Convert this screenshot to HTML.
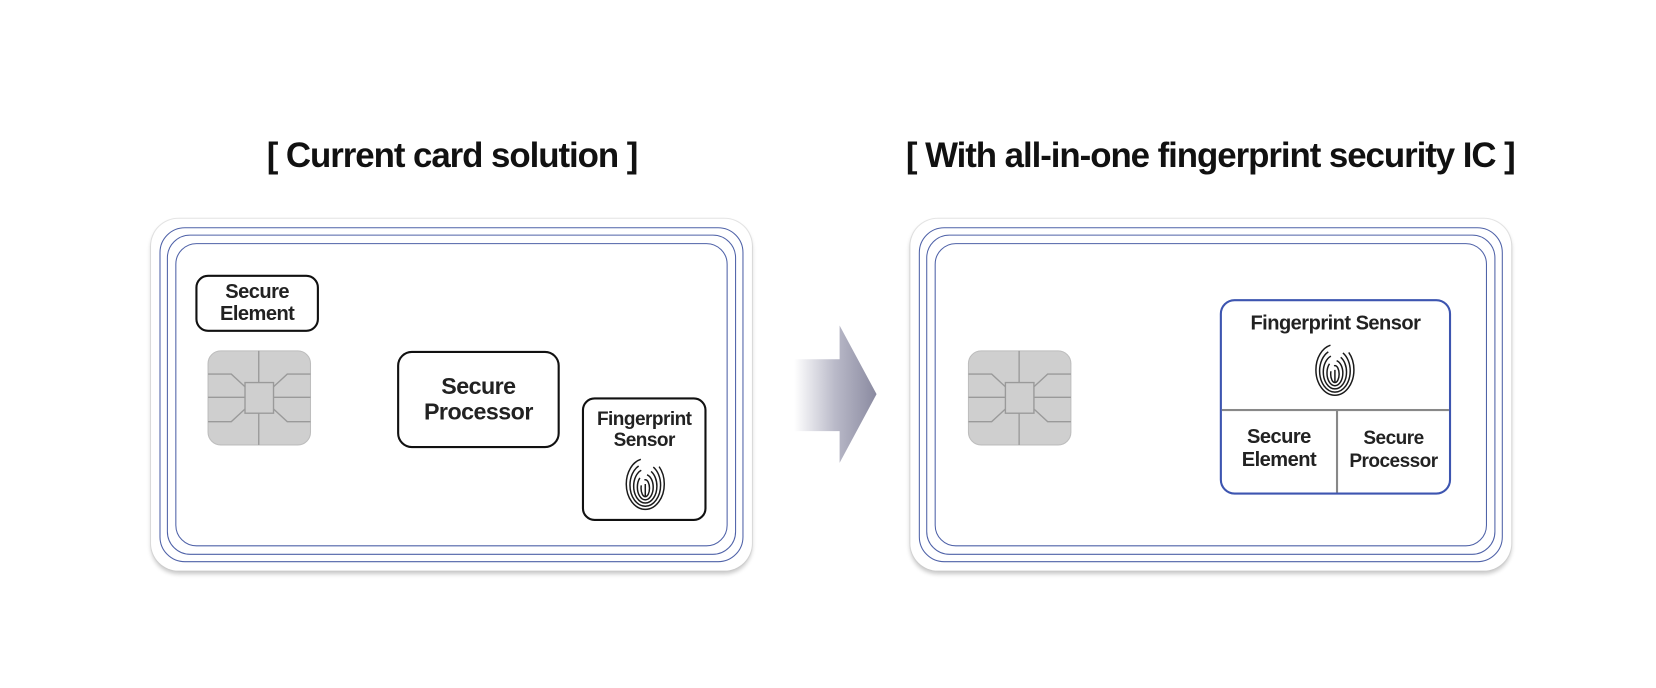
<!DOCTYPE html>
<html><head><meta charset="utf-8"><style>
html,body{margin:0;padding:0;background:#fff;width:1656px;height:688px;overflow:hidden}
#w{position:absolute;left:0;top:0;width:1568px;height:651px;transform:scale(1.0561,1.0568);transform-origin:0 0;font-family:"Liberation Sans",sans-serif}
.abs{position:absolute}
.title{position:absolute;top:128px;font-weight:bold;font-size:33px;color:#111;letter-spacing:-1px;white-space:nowrap;transform:translateX(-50%)}
.card{position:absolute;width:569px;height:333px;border-radius:26px;background:#fff;box-shadow:0 3px 4px #c8c8c8,0 0 0 1px #e6e6e6}
.ln{position:absolute;border:1.6px solid #4f62a8;border-radius:22px}
.box{position:absolute;border:2.5px solid #111;border-radius:12px;background:#fff;display:flex;align-items:center;justify-content:center;text-align:center;font-weight:bold;color:#222;letter-spacing:-0.5px}
</style></head><body><div id="w">
<div class="title" style="left:428px">[ Current card solution ]</div>
<div class="title" style="left:1146px">[ With all-in-one fingerprint security IC ]</div>

<div class="card" style="left:143px;top:207px">
 <div class="ln" style="left:8px;top:8px;right:8px;bottom:8px;border-radius:24px"></div>
 <div class="ln" style="left:15px;top:15px;right:15px;bottom:15px;border-radius:22px"></div>
 <div class="ln" style="left:23px;top:23px;right:23px;bottom:23px;border-radius:20px"></div>
</div>
<div class="card" style="left:862px;top:207px">
 <div class="ln" style="left:8px;top:8px;right:8px;bottom:8px;border-radius:24px"></div>
 <div class="ln" style="left:15px;top:15px;right:15px;bottom:15px;border-radius:22px"></div>
 <div class="ln" style="left:23px;top:23px;right:23px;bottom:23px;border-radius:20px"></div>
</div>

<svg class="abs" style="left:0;top:0" width="1568" height="651">
<defs>
<linearGradient id="ag" x1="0" x2="1"><stop offset="0" stop-color="#fff"/><stop offset="0.5" stop-color="#b9b9c8"/><stop offset="1" stop-color="#8a8aa0"/></linearGradient>
<g id="chip">
 <rect x="0" y="0" width="97" height="89" rx="12" fill="#cfcfcf" stroke="#bdbdbd"/>
 <g stroke="#9a9a9a" stroke-width="1.3" fill="none">
 <line x1="48" y1="0" x2="48" y2="30"/><line x1="48" y1="59" x2="48" y2="89"/>
 <rect x="35" y="30" width="27" height="29"/>
 <polyline points="0,22 22,22 35,34"/><polyline points="97,22 75,22 62,34"/>
 <line x1="0" y1="44" x2="35" y2="44"/><line x1="62" y1="44" x2="97" y2="44"/>
 <polyline points="0,67 22,67 35,55"/><polyline points="97,67 75,67 62,55"/>
 </g>
</g>
</defs>
<use href="#chip" x="197" y="332"/>
<use href="#chip" x="917" y="332"/>
<polygon points="752,340 795,340 795,308 830,373 795,438 795,408 752,408" fill="url(#ag)"/>
</svg>

<div class="box" style="left:185px;top:260px;width:113px;height:50px;font-size:19px;line-height:21px">Secure<br>Element</div>
<div class="box" style="left:376px;top:332px;width:150px;height:88px;font-size:22px;line-height:24px;border-radius:14px">Secure<br>Processor</div>
<div class="box" style="left:551px;top:376px;width:114px;height:113px;font-size:18px;line-height:20px;align-items:flex-start"><div style="margin-top:8px">Fingerprint<br>Sensor</div></div>

<div class="abs" style="left:1155px;top:283px;width:215px;height:181px;border:2.5px solid #3d55b0;border-radius:14px;background:#fff">
 <div class="abs" style="left:0;right:0;top:11px;text-align:center;font-weight:bold;font-size:19px;color:#222;letter-spacing:-0.5px">Fingerprint Sensor</div>
 <div class="abs" style="left:0;right:0;top:102px;border-top:2px solid #888"></div>
 <div class="abs" style="left:108px;top:103px;bottom:0;border-left:2px solid #888"></div>
 <div class="abs" style="left:0;width:108px;top:118px;text-align:center;font-weight:bold;font-size:19px;line-height:22px;color:#222;letter-spacing:-0.5px">Secure<br>Element</div>
 <div class="abs" style="left:110px;width:105px;top:118px;text-align:center;font-weight:bold;font-size:18px;line-height:22px;color:#222;letter-spacing:-0.5px">Secure<br>Processor</div>
</div>
<svg class="abs" style="left:0;top:0" width="1568" height="651">
<defs>
<g id="fp" fill="none" stroke="#1a1a1a" stroke-width="1.4">
 <ellipse cx="0" cy="0" rx="18" ry="24" stroke-dasharray="95 20"/>
 <ellipse cx="0" cy="1" rx="14.5" ry="20" stroke-dasharray="75 15"/>
 <ellipse cx="0" cy="2" rx="11" ry="16" stroke-dasharray="60 10"/>
 <ellipse cx="0" cy="3" rx="7.5" ry="12" stroke-dasharray="40 8"/>
 <ellipse cx="0" cy="4" rx="4" ry="8" stroke-dasharray="22 6"/>
 <line x1="0" y1="0" x2="0" y2="12"/>
</g>
</defs>
<use href="#fp" x="611" y="458"/>
<use href="#fp" x="1264" y="350"/>
</svg>
</div></body></html>
